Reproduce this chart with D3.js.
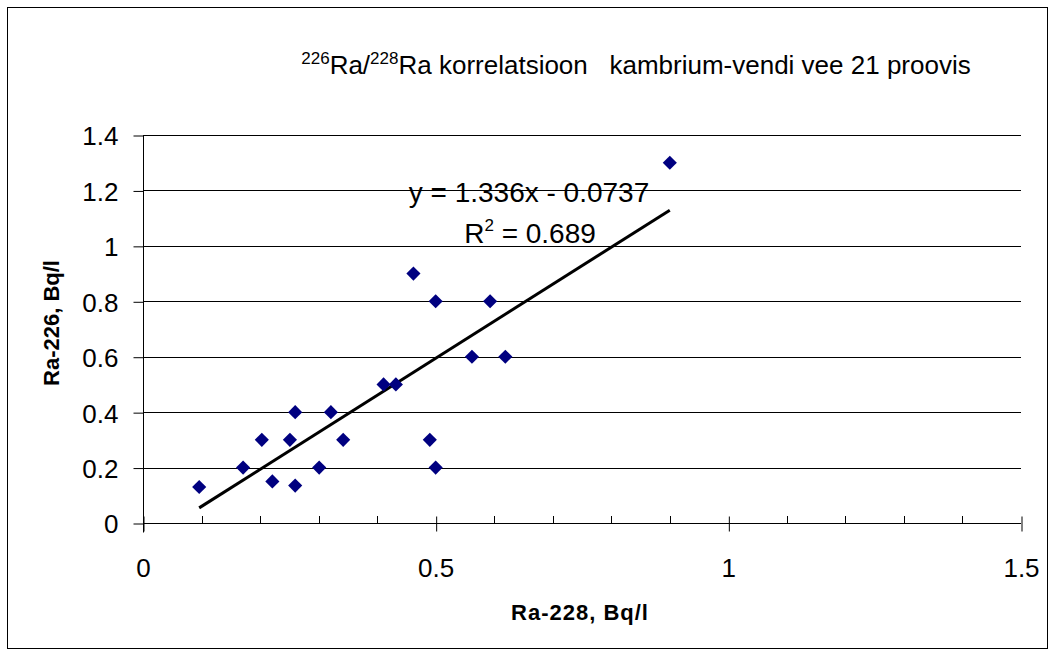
<!DOCTYPE html>
<html>
<head>
<meta charset="utf-8">
<script src="https://cdn.jsdelivr.net/npm/d3@7"></script>
<style>
  body { margin: 0; background: #fff; }
  text { font-family: Arial, "Liberation Sans", sans-serif; }
</style>
</head>
<body>
<svg id="graph" width="1056" height="657"></svg>
<script>

//data (Ra-228 vs Ra-226, Bq/l)
let ra228 = [0.096, 0.171, 0.203, 0.221, 0.251, 0.26, 0.26, 0.301, 0.321, 0.342,
             0.411, 0.432, 0.49, 0.5, 0.462, 0.5, 0.593, 0.562, 0.619, 0.9];
let ra226 = [0.13, 0.2, 0.3, 0.15, 0.3, 0.4, 0.135, 0.2, 0.4, 0.3,
             0.5, 0.5, 0.3, 0.2, 0.9, 0.8, 0.8, 0.6, 0.6, 1.3];

//trend line (from the chart label)
let slope = 1.336;
let intercept = -0.0737;
let rSquared = "0.689";

let xTicks = [0, 0.5, 1, 1.5];
let xMinorTicks = [0.1, 0.2, 0.3, 0.4, 0.6, 0.7, 0.8, 0.9, 1.1, 1.2, 1.3, 1.4];
let yTicks = [0, 0.2, 0.4, 0.6, 0.8, 1, 1.2, 1.4];

let points = ra228.map((d, i) => ({ x: d, y: ra226[i] }));

let svg = d3.select("#graph");

//outer frame
svg.append("rect")
  .attr("x", 7.5)
  .attr("y", 7.5)
  .attr("width", 1040)
  .attr("height", 641)
  .style("fill", "white")
  .style("stroke", "black");

let plotLeft = 143;
let plotRight = 1021;
let plotTop = 135;
let plotBottom = 523;

let xScale = d3.scaleLinear()
  .domain([0, 1.5])
  .range([plotLeft, plotRight]);

let yScale = d3.scaleLinear()
  .domain([0, 1.4])
  .range([plotBottom, plotTop]);

//gridlines
svg.append("g")
  .selectAll("line")
  .data(yTicks.slice(1))
  .join("line")
  .attr("x1", plotLeft)
  .attr("x2", plotRight)
  .attr("y1", d => Math.round(yScale(d)) + 0.5)
  .attr("y2", d => Math.round(yScale(d)) + 0.5)
  .style("stroke", "black");

//y axis
let yAxis = svg.append("g")
  .attr("transform", "translate(" + (plotLeft + 0.5) + ",0.5)")
  .call(d3.axisLeft(yScale).tickValues(yTicks).tickSize(10).tickPadding(15)
    .tickFormat(d3.format("")));
yAxis.select(".domain").attr("d", "M0," + (plotTop - 0.5) + "V" + (plotBottom + 9));
yAxis.selectAll("text").style("font-size", "26px").attr("dy", "0.36em");

//x axis (major ticks cross the line)
let xAxis = svg.append("g")
  .attr("transform", "translate(0," + (plotBottom + 0.5) + ")")
  .call(d3.axisBottom(xScale).tickValues(xTicks).tickSize(8).tickPadding(27)
    .tickFormat(d3.format("")));
xAxis.select(".domain").attr("d", "M" + plotLeft + ",0H" + plotRight);
xAxis.selectAll(".tick line").attr("y1", -7).attr("transform", "translate(0.5,0)");
xAxis.selectAll("text").style("font-size", "26px");

//minor ticks
svg.append("g")
  .selectAll("line")
  .data(xMinorTicks)
  .join("line")
  .attr("x1", d => Math.round(xScale(d)) + 0.5)
  .attr("x2", d => Math.round(xScale(d)) + 0.5)
  .attr("y1", plotBottom - 7)
  .attr("y2", plotBottom)
  .style("stroke", "black");

//trend line
let xMin = d3.min(ra228);
let xMax = d3.max(ra228);
svg.append("line")
  .attr("x1", xScale(xMin))
  .attr("y1", yScale(slope * xMin + intercept))
  .attr("x2", xScale(xMax))
  .attr("y2", yScale(slope * xMax + intercept))
  .style("stroke", "black")
  .style("stroke-width", 3);

//points (diamonds)
svg.append("g")
  .selectAll("path")
  .data(points)
  .join("path")
  .attr("d", d3.symbol(d3.symbolSquare, 100))
  .attr("transform", d => "translate(" + xScale(d.x) + "," + yScale(d.y) + ") rotate(45)")
  .style("fill", "#000080");

//equation labels
svg.append("text")
  .attr("x", 529)
  .attr("y", 202)
  .style("text-anchor", "middle")
  .style("font-size", "28px")
  .text("y = " + slope + "x - " + Math.abs(intercept));

let r2 = svg.append("text")
  .attr("x", 530)
  .attr("y", 243)
  .style("text-anchor", "middle")
  .style("font-size", "28px");
r2.append("tspan").text("R");
r2.append("tspan").attr("dy", -12).style("font-size", "17px").text("2");
r2.append("tspan").attr("dy", 12).text(" = " + rSquared);

//title of graph
let title = svg.append("text")
  .attr("x", 636)
  .attr("y", 74)
  .style("text-anchor", "middle")
  .style("font-size", "26px");
title.append("tspan").attr("dy", -10).style("font-size", "17px").text("226");
title.append("tspan").attr("dy", 10).text("Ra/");
title.append("tspan").attr("dy", -10).style("font-size", "17px").text("228");
title.append("tspan").attr("dy", 10)
  .text("Ra korrelatsioon\u00a0\u00a0\u00a0kambrium-vendi vee 21 proovis");

//label for the x-axis
svg.append("text")
  .attr("x", 580)
  .attr("y", 620)
  .style("text-anchor", "middle")
  .style("font-size", "22px")
  .style("font-weight", "bold")
  .style("letter-spacing", "1px")
  .text("Ra-228, Bq/l");

//label for the y-axis
svg.append("text")
  .attr("transform", "translate(59," + ((plotTop + plotBottom) / 2 - 6) + ") rotate(-90)")
  .style("text-anchor", "middle")
  .style("font-size", "22px")
  .style("font-weight", "bold")
  .text("Ra-226, Bq/l");

</script>
</body>
</html>
